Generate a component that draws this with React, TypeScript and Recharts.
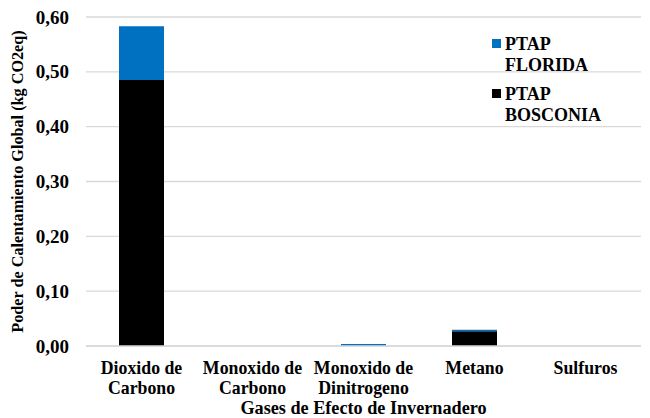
import React from 'react';
import { BarChart, Bar, XAxis, YAxis, CartesianGrid, Legend } from 'recharts';

const categories = ['Dioxido de Carbono', 'Monoxido de Carbono', 'Monoxido de Dinitrogeno', 'Metano', 'Sulfuros'];
const bosconia = [0.485, 0, 0.0003, 0.027, 0];
const florida = [0.098, 0, 0.0035, 0.0025, 0];
const yTicks = [0, 0.1, 0.2, 0.3, 0.4, 0.5, 0.6];
const seriesNames = { bosconia: 'PTAP BOSCONIA', florida: 'PTAP FLORIDA' };
const xTitle = 'Gases de Efecto de Invernadero';
const yTitle = 'Poder de Calentamiento Global (kg CO2eq)';

const data = categories.map((c, i) => ({ name: c, bosconia: bosconia[i], florida: florida[i] }));

const FONT = 'Liberation Serif';
const BLUE = '#0070C0';
const BLACK = '#000000';
const GRID = '#d9d9d9';

function splitLabel(label: string): string[] {
  const idx = label.indexOf(' de ');
  if (idx >= 0) return [label.slice(0, idx + 3), label.slice(idx + 4)];
  return [label];
}

const fmt = (v: number) => v.toFixed(2).replace('.', ',');

const XTick = (props: any) => {
  const { x, y, payload } = props;
  const lines = splitLabel(String(payload.value));
  return (
    <g>
      {lines.map((l, i) => (
        <text key={i} x={x} y={y + 20 + i * 20} textAnchor="middle" style={{ fontFamily: FONT, fontWeight: 'bold', fontSize: 17.8 }} fill="#000">
          {l}
        </text>
      ))}
    </g>
  );
};

const YTick = (props: any) => {
  const { x, y, payload } = props;
  return (
    <text x={x} y={y} textAnchor="end" dominantBaseline="central" style={{ fontFamily: FONT, fontWeight: 'bold', fontSize: 19 }} fill="#000">
      {fmt(payload.value)}
    </text>
  );
};

const LegendContent = () => {
  const items = [
    { color: BLUE, label: seriesNames.florida },
    { color: BLACK, label: seriesNames.bosconia },
  ];
  return (
    <div style={{ fontFamily: FONT, fontWeight: 'bold', fontSize: 18, lineHeight: '21px', color: '#000', textAlign: 'left' }}>
      {items.map((it, i) => (
        <div key={i} style={{ display: 'flex', alignItems: 'flex-start', marginBottom: i === 0 ? 7.5 : 0 }}>
          <span style={{ display: 'inline-block', width: 9, height: 9, background: it.color, marginTop: 5, marginRight: 4.5, flex: 'none' }} />
          <div>
            {it.label.split(' ').map((w, j) => (
              <div key={j}>{w}</div>
            ))}
          </div>
        </div>
      ))}
    </div>
  );
};

export default function App() {
  return (
    <div style={{ position: 'absolute', left: 0, top: 0, fontFamily: FONT }}>
      <BarChart width={650} height={418} data={data} margin={{ top: 17, right: 9, left: 0, bottom: 0 }} barSize={45}>
        <CartesianGrid vertical={false} stroke={GRID} strokeWidth={1.3} />
        <XAxis
          dataKey="name"
          axisLine={{ stroke: GRID, strokeWidth: 1.3 }}
          tickLine={false}
          height={72}
          interval={0}
          tick={<XTick />}
          label={{
            content: (p: any) => {
              const vb = p.viewBox;
              return (
                <text x={vb.x + vb.width / 2} y={vb.y + 68} textAnchor="middle" style={{ fontFamily: FONT, fontWeight: 'bold', fontSize: 18.2 }} fill="#000">
                  {xTitle}
                </text>
              );
            },
          }}
        />
        <YAxis
          width={86}
          domain={[0, 0.6]}
          ticks={yTicks}
          axisLine={false}
          tickLine={false}
          tickSize={0}
          tickMargin={17}
          tick={<YTick />}
          label={{
            content: (p: any) => {
              const vb = p.viewBox;
              const cx = 18;
              const cy = vb.y + vb.height / 2;
              return (
                <text x={cx} y={cy} transform={`rotate(-90 ${cx} ${cy})`} textAnchor="middle" dominantBaseline="central" style={{ fontFamily: FONT, fontWeight: 'bold', fontSize: 16.2 }} fill="#000">
                  {yTitle}
                </text>
              );
            },
          }}
        />
        <Legend
          layout="horizontal"
          verticalAlign="middle"
          align="center"
          content={<LegendContent />}
          wrapperStyle={{ position: 'absolute', left: 491.5, top: 34, width: 150 }}
        />
        <Bar dataKey="bosconia" stackId="a" fill={BLACK} isAnimationActive={false} name={seriesNames.bosconia} />
        <Bar dataKey="florida" stackId="a" fill={BLUE} isAnimationActive={false} name={seriesNames.florida} />
      </BarChart>
    </div>
  );
}
